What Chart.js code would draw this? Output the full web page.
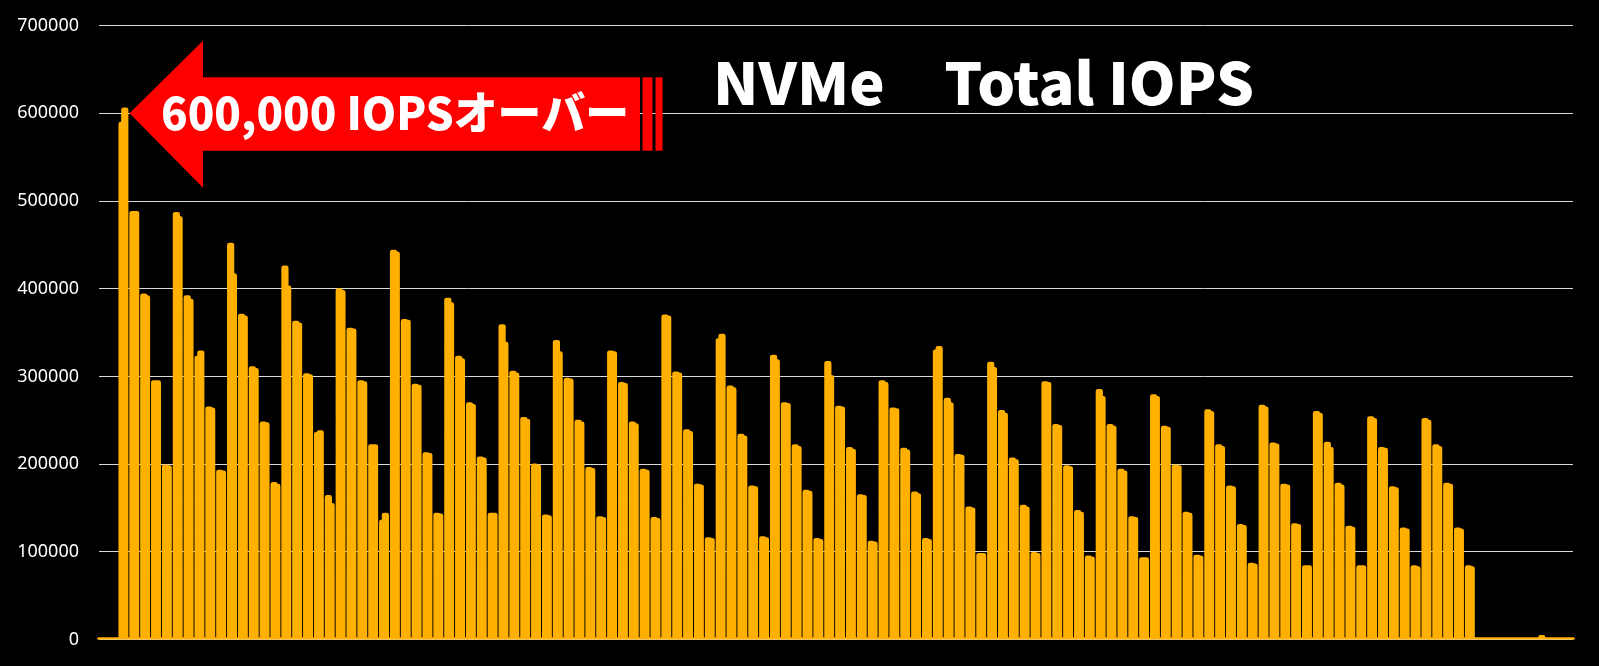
<!DOCTYPE html>
<html lang="ja">
<head>
<meta charset="utf-8">
<title>NVMe Total IOPS</title>
<script src="https://cdn.jsdelivr.net/npm/chart.js@4.4.1/dist/chart.umd.min.js"></script>
<style>
  html, body { margin: 0; padding: 0; background: #000; }
  #wrap { position: relative; width: 1599px; height: 666px; }
</style>
</head>
<body>
<div id="wrap"><canvas id="iopsChart"></canvas></div>
<script>
// y axis ticks
const yTicks = [0, 100000, 200000, 300000, 400000, 500000, 600000, 700000];

// idle samples before the first test
const idleBefore = [0, 0, 0, 0, 0, 0, 0, 0];

// each test run: [IOPS at start, IOPS at end], 25 rounds of 5 runs
const bursts = [
  [588000, 604000], [486000, 486000], [392000, 390000], [293000, 293000], [197000, 196000],
  [485000, 480000], [390000, 386000], [321000, 327000], [263000, 262000], [191000, 190000],
  [450000, 415000], [369000, 367000], [309000, 307000], [246000, 245000], [177000, 175000],
  [424000, 401000], [361000, 359000], [301000, 300000], [234000, 236000], [162000, 153000],
  [398000, 396000], [353000, 352000], [293000, 292000], [220000, 220000], [134000, 142000],
  [442000, 440000], [363000, 362000], [289000, 288000], [211000, 210000], [142000, 141000],
  [387000, 382000], [321000, 318000], [268000, 266000], [206000, 205000], [142000, 142000],
  [357000, 337000], [304000, 302000], [251000, 249000], [198000, 197000], [140000, 139000],
  [339000, 326000], [296000, 295000], [248000, 246000], [194000, 193000], [138000, 137000],
  [327000, 326000], [291000, 290000], [246000, 244000], [192000, 191000], [137000, 136000],
  [368000, 367000], [303000, 302000], [237000, 235000], [175000, 174000], [114000, 113000],
  [341000, 346000], [287000, 285000], [232000, 230000], [173000, 172000], [115000, 114000],
  [322000, 317000], [268000, 267000], [220000, 218000], [168000, 167000], [113000, 112000],
  [315000, 299000], [264000, 263000], [217000, 215000], [163000, 162000], [110000, 109000],
  [293000, 291000], [262000, 261000], [216000, 214000], [166000, 164000], [113000, 112000],
  [328000, 332000], [273000, 268000], [209000, 208000], [149000, 148000], [96000, 96000],
  [314000, 308000], [259000, 256000], [205000, 203000], [151000, 149000], [97000, 96000],
  [292000, 291000], [243000, 242000], [196000, 195000], [145000, 143000], [93000, 92000],
  [283000, 275000], [243000, 241000], [192000, 190000], [138000, 137000], [91000, 91000],
  [277000, 275000], [241000, 240000], [197000, 196000], [143000, 142000], [94000, 93000],
  [260000, 258000], [220000, 218000], [173000, 172000], [129000, 128000], [85000, 84000],
  [265000, 263000], [222000, 221000], [175000, 174000], [130000, 129000], [82000, 82000],
  [258000, 256000], [223000, 217000], [176000, 174000], [127000, 126000], [82000, 82000],
  [252000, 250000], [217000, 216000], [172000, 171000], [125000, 124000], [82000, 81000],
  [250000, 248000], [220000, 218000], [176000, 175000], [125000, 124000], [82000, 81000]
];

// idle samples after the last test
const idleAfter = [
  0, 0, 0, 0, 0, 0, 0, 0, 0, 0, 0, 0,
  0, 0, 0, 0, 0, 0, 0, 0, 0, 0, 0, 2500,
  0, 0, 0, 0, 0, 0, 0, 0, 0, 0, 0, 0
];

const chartTitle = 'NVMe\u3000Total IOPS';
const calloutText = '600,000 IOPSオーバー';

// sample series: each run is followed by a short pause at zero
const samples = idleBefore.slice();
bursts.forEach(function(b) {
  samples.push(b[0], b[1], 0, 0);
});
idleAfter.forEach(function(v) { samples.push(v); });
const labels = samples.map(function(v, i) { return i; });

function fitText(ctx, text, x, baseline, width) {
  const w = ctx.measureText(text).width;
  ctx.save();
  ctx.translate(x, baseline);
  ctx.scale(width / w, 1);
  ctx.fillText(text, 0, 0);
  ctx.restore();
}

const overlay = {
  id: 'overlay',
  afterDraw: function(chart) {
    const ctx = chart.ctx;
    const y600 = chart.scales.y.getPixelForValue(600000);
    ctx.save();
    // red arrow
    ctx.fillStyle = '#FF0000';
    ctx.beginPath();
    ctx.moveTo(129.5, y600);
    ctx.lineTo(203, 40.7);
    ctx.lineTo(203, 77.3);
    ctx.lineTo(640, 77.3);
    ctx.lineTo(640, 150.7);
    ctx.lineTo(203, 150.7);
    ctx.lineTo(203, 187.7);
    ctx.closePath();
    ctx.fill();
    ctx.fillRect(642.5, 77.3, 10, 73.4);
    ctx.fillRect(655.5, 77.3, 7, 73.4);

    ctx.fillStyle = '#FFFFFF';
    ctx.textBaseline = 'alphabetic';
    ctx.font = '900 45px "Noto Sans CJK JP", sans-serif';
    fitText(ctx, calloutText, 161, 130, 468);

    ctx.font = '900 58px "Noto Sans CJK JP", sans-serif';
    fitText(ctx, chartTitle, 713, 105, 541);
    ctx.restore();
  }
};

new Chart(document.getElementById('iopsChart').getContext('2d'), {
  type: 'line',
  data: {
    labels: labels,
    datasets: [{
      data: samples,
      borderColor: '#FFB000',
      backgroundColor: '#FFB000',
      borderWidth: 4.5,
      borderJoinStyle: 'round',
      borderCapStyle: 'round',
      stepped: 'before',
      pointRadius: 0,
      fill: 'origin'
    }]
  },
  options: {
    responsive: true,
    maintainAspectRatio: false,
    animation: false,
    layout: { padding: { left: 0, right: 26, top: 25.7, bottom: 26.6 } },
    plugins: {
      legend: { display: false },
      tooltip: { enabled: false }
    },
    scales: {
      x: { display: false },
      y: {
        min: 0,
        max: 700000,
        afterFit: function(scale) {
          scale.width = 99;
          scale.paddingTop = 0;
          scale.paddingBottom = 0;
        },
        afterBuildTicks: function(scale) {
          scale.ticks = yTicks.map(function(v) { return { value: v }; });
        },
        border: { display: false },
        grid: { color: '#D9D9D9', lineWidth: 1, drawTicks: false, tickLength: 0 },
        ticks: {
          color: '#FFFFFF',
          padding: 20,
          font: { family: '"Noto Sans", sans-serif', size: 18 },
          callback: function(v) { return String(v); }
        }
      }
    }
  },
  plugins: [overlay]
});
</script>
</body>
</html>
